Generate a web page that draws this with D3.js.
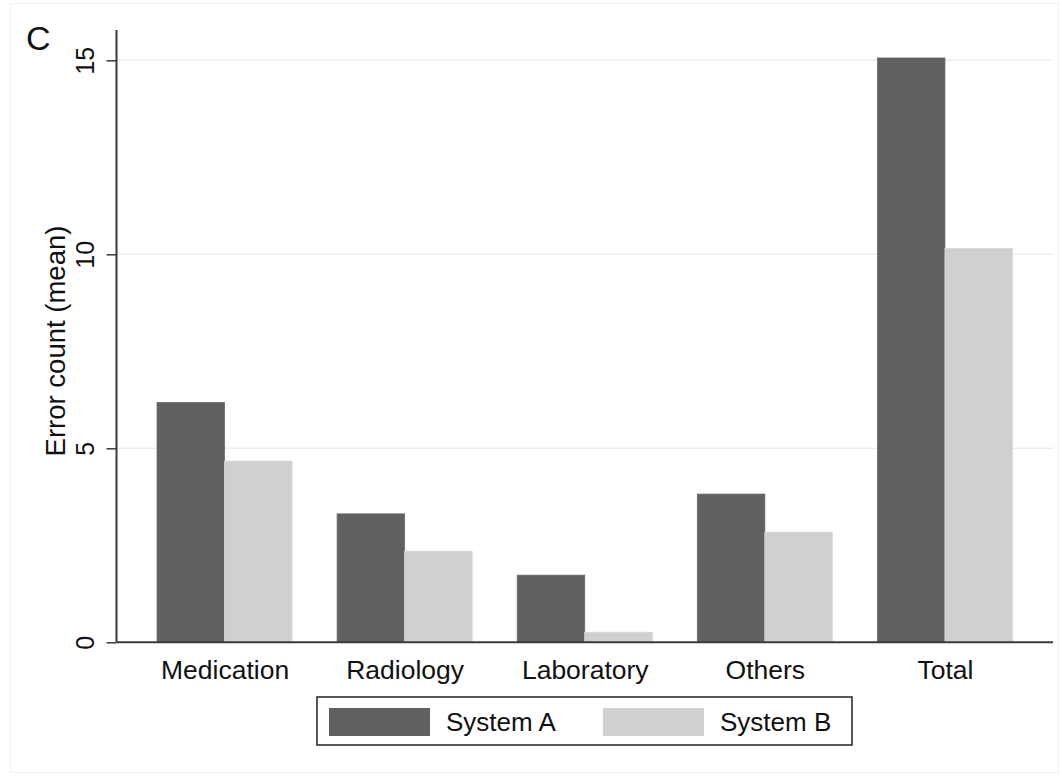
<!DOCTYPE html>
<html>
<head>
<meta charset="utf-8">
<script src="https://cdn.jsdelivr.net/npm/d3@7"></script>
<style>
  html, body { margin: 0; padding: 0; background: #fff; }
  svg { display: block; }
</style>
</head>
<body>
<svg id="chart" width="1062" height="777"></svg>
<script>
// Mean error counts per category, by system
const categories = ["Medication", "Radiology", "Laboratory", "Others", "Total"];
const seriesNames = ["System A", "System B"];
const systemA = [6.18, 3.31, 1.73, 3.82, 15.06];
const systemB = [4.67, 2.35, 0.26, 2.84, 10.15];
const yTicks = [0, 5, 10, 15];
const colors = ["#606060", "#d0d0d0"];

const FONT = "'Liberation Sans', Arial, Helvetica, sans-serif";
const svg = d3.select("#chart");
const W = 1062, H = 777;
const plotLeft = 116.5, plotRight = 1053, plotTop = 30, plotBottom = 642.3;

// faint outer frame
svg.append("rect").attr("x", 10.5).attr("y", 3.5).attr("width", W - 14).attr("height", H - 8)
  .attr("fill", "none").attr("stroke", "#f0f0f0");

const y = d3.scaleLinear().domain([0, 15]).range([plotBottom, plotBottom - 582]);
const x = d3.scalePoint().domain(categories).range([plotLeft, plotRight]).padding(0.6);
const step = x.step();
const barW = step * 0.375;

// gridlines
svg.append("g").selectAll("line").data(yTicks.filter(d => d > 0)).join("line")
  .attr("x1", plotLeft).attr("x2", plotRight)
  .attr("y1", d => y(d)).attr("y2", d => y(d))
  .attr("stroke", "#e6eff1").attr("stroke-width", 1.5);

// bars
const data = categories.map((c, i) => ({ c, vals: [systemA[i], systemB[i]] }));
const groups = svg.append("g").selectAll("g").data(data).join("g");
groups.selectAll("rect").data(d => d.vals.map((v, j) => ({ c: d.c, v, j }))).join("rect")
  .attr("x", d => x(d.c) - barW + d.j * barW)
  .attr("width", barW)
  .attr("y", d => y(d.v))
  .attr("height", d => y(0) - y(d.v))
  .attr("fill", d => colors[d.j])
  .attr("stroke", d => d.j === 0 ? "#6a6a6a" : "#d8d8d8")
  .attr("stroke-width", 0.8);

// y axis
const yAxis = d3.axisLeft(y).tickValues(yTicks).tickSize(10).tickPadding(8).tickFormat(d3.format("d"));
const gy = svg.append("g").attr("transform", `translate(${plotLeft},0)`).call(yAxis);
gy.select(".domain").attr("stroke", "#3a3a3a").attr("stroke-width", 2).attr("d", `M0,${plotBottom}V${plotTop}`);
gy.selectAll(".tick line").attr("stroke", "#3a3a3a").attr("stroke-width", 1.5);
gy.selectAll(".tick text")
  .attr("font-family", FONT).attr("font-size", 25).attr("fill", "#111")
  .attr("text-anchor", "middle")
  .attr("x", 0).attr("y", 0).attr("dy", 0)
  .attr("transform", "translate(-23,0) rotate(-90)");

// x axis
const xAxis = d3.axisBottom(x).tickSize(0);
const gx = svg.append("g").attr("transform", `translate(0,${plotBottom})`).call(xAxis);
gx.select(".domain").attr("stroke", "#3a3a3a").attr("stroke-width", 2).attr("d", `M${plotLeft},0H${plotRight}`);
gx.selectAll(".tick text")
  .attr("font-family", FONT).attr("font-size", 26.5).attr("fill", "#111")
  .attr("y", 37).attr("dy", 0);

// y axis title
svg.append("text")
  .attr("transform", `translate(65,341) rotate(-90)`)
  .attr("text-anchor", "middle")
  .attr("font-family", FONT).attr("font-size", 27.5).attr("fill", "#111")
  .text("Error count (mean)");

// panel letter
svg.append("text").attr("x", 26).attr("y", 50)
  .attr("font-family", FONT).attr("font-size", 34).attr("fill", "#111")
  .text("C");

// legend
const lg = svg.append("g");
lg.append("rect").attr("x", 317).attr("y", 697).attr("width", 535).attr("height", 48)
  .attr("fill", "#fff").attr("stroke", "#222").attr("stroke-width", 1.5);
const legX = [329, 603];
seriesNames.forEach((s, i) => {
  lg.append("rect").attr("x", legX[i]).attr("y", 708).attr("width", 101).attr("height", 28)
    .attr("fill", colors[i]);
  lg.append("text").attr("x", legX[i] + 117).attr("y", 731)
    .attr("font-family", FONT).attr("font-size", 26).attr("fill", "#111")
    .text(s);
});
</script>
</body>
</html>
